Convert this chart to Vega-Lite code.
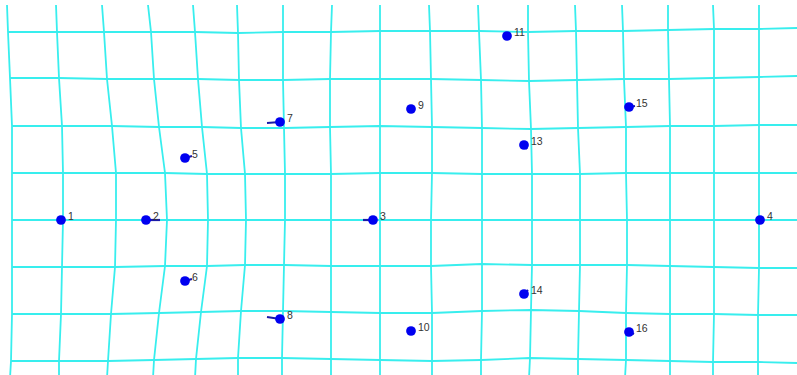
{
  "$schema": "https://vega.github.io/schema/vega-lite/v6.json",
  "width": 797,
  "height": 375,
  "autosize": {"type": "fit", "contains": "padding"},
  "padding": 0,
  "background": "white",
  "config": {"view": {"stroke": null}},
  "datasets": {
    "grid": [
      {"v":1,"x":7,"y":5},{"v":2,"x":56,"y":5},{"v":3,"x":102,"y":5},{"v":4,"x":148,"y":5},{"v":5,"x":193,"y":5},{"v":6,"x":237,"y":5},{"v":7,"x":283,"y":5},{"v":8,"x":332,"y":5},{"v":9,"x":380,"y":5},{"v":10,"x":429,"y":5},{"v":11,"x":478,"y":5},{"v":12,"x":528,"y":5},{"v":13,"x":575,"y":5},{"v":14,"x":622,"y":5},{"v":15,"x":668,"y":5},{"v":16,"x":713,"y":5},{"v":17,"x":759,"y":5},

      {"v":1,"h":1,"x":8,"y":32},{"v":2,"h":1,"x":57,"y":32},{"v":3,"h":1,"x":104,"y":32},{"v":4,"h":1,"x":151,"y":32},{"v":5,"h":1,"x":195,"y":32},{"v":6,"h":1,"x":238,"y":33},{"v":7,"h":1,"x":283,"y":32},{"v":8,"h":1,"x":331,"y":32},{"v":9,"h":1,"x":380,"y":31},{"v":10,"h":1,"x":430,"y":31},{"v":11,"h":1,"x":479,"y":31},{"v":12,"h":1,"x":528,"y":32},{"v":13,"h":1,"x":576,"y":31},{"v":14,"h":1,"x":623,"y":31},{"v":15,"h":1,"x":668,"y":30},{"v":16,"h":1,"x":714,"y":29},{"v":17,"h":1,"x":759,"y":29},{"h":1,"x":797,"y":28},

      {"v":1,"h":2,"x":10,"y":78},{"v":2,"h":2,"x":59,"y":78},{"v":3,"h":2,"x":107,"y":79},{"v":4,"h":2,"x":154,"y":79},{"v":5,"h":2,"x":198,"y":79},{"v":6,"h":2,"x":239,"y":80},{"v":7,"h":2,"x":283,"y":80},{"v":8,"h":2,"x":330,"y":79},{"v":9,"h":2,"x":380,"y":79},{"v":10,"h":2,"x":431,"y":79},{"v":11,"h":2,"x":481,"y":80},{"v":12,"h":2,"x":529,"y":81},{"v":13,"h":2,"x":577,"y":80},{"v":14,"h":2,"x":624,"y":79},{"v":15,"h":2,"x":669,"y":79},{"v":16,"h":2,"x":714,"y":78},{"v":17,"h":2,"x":759,"y":77},{"h":2,"x":797,"y":76},

      {"v":1,"h":3,"x":12,"y":126},{"v":2,"h":3,"x":62,"y":126},{"v":3,"h":3,"x":112,"y":126},{"v":4,"h":3,"x":159,"y":127},{"v":5,"h":3,"x":202,"y":127},{"v":6,"h":3,"x":241,"y":128},{"v":7,"h":3,"x":284,"y":128},{"v":8,"h":3,"x":330,"y":127},{"v":9,"h":3,"x":380,"y":126},{"v":10,"h":3,"x":432,"y":127},{"v":11,"h":3,"x":482,"y":128},{"v":12,"h":3,"x":531,"y":129},{"v":13,"h":3,"x":578,"y":128},{"v":14,"h":3,"x":626,"y":127},{"v":15,"h":3,"x":670,"y":126},{"v":16,"h":3,"x":714,"y":126},{"v":17,"h":3,"x":759,"y":125},{"h":3,"x":797,"y":125},

      {"v":1,"h":4,"x":12,"y":173},{"v":2,"h":4,"x":63,"y":173},{"v":3,"h":4,"x":116,"y":173},{"v":4,"h":4,"x":165,"y":173},{"v":5,"h":4,"x":207,"y":174},{"v":6,"h":4,"x":245,"y":174},{"v":7,"h":4,"x":285,"y":174},{"v":8,"h":4,"x":331,"y":174},{"v":9,"h":4,"x":380,"y":173},{"v":10,"h":4,"x":432,"y":173},{"v":11,"h":4,"x":482,"y":174},{"v":12,"h":4,"x":532,"y":174},{"v":13,"h":4,"x":580,"y":174},{"v":14,"h":4,"x":626,"y":173},{"v":15,"h":4,"x":670,"y":173},{"v":16,"h":4,"x":714,"y":173},{"v":17,"h":4,"x":759,"y":173},{"h":4,"x":797,"y":173},

      {"v":1,"h":5,"x":12,"y":220},{"v":2,"h":5,"x":63,"y":220},{"v":3,"h":5,"x":116,"y":220},{"v":4,"h":5,"x":167,"y":220},{"v":5,"h":5,"x":208,"y":220},{"v":6,"h":5,"x":246,"y":220},{"v":7,"h":5,"x":285,"y":220},{"v":8,"h":5,"x":331,"y":220},{"v":9,"h":5,"x":380,"y":220},{"v":10,"h":5,"x":431,"y":220},{"v":11,"h":5,"x":482,"y":220},{"v":12,"h":5,"x":532,"y":220},{"v":13,"h":5,"x":580,"y":220},{"v":14,"h":5,"x":627,"y":220},{"v":15,"h":5,"x":670,"y":220},{"v":16,"h":5,"x":714,"y":220},{"v":17,"h":5,"x":759,"y":220},{"h":5,"x":797,"y":220},

      {"v":1,"h":6,"x":12,"y":267},{"v":2,"h":6,"x":62,"y":267},{"v":3,"h":6,"x":115,"y":267},{"v":4,"h":6,"x":165,"y":266},{"v":5,"h":6,"x":207,"y":266},{"v":6,"h":6,"x":245,"y":265},{"v":7,"h":6,"x":284,"y":265},{"v":8,"h":6,"x":331,"y":266},{"v":9,"h":6,"x":380,"y":266},{"v":10,"h":6,"x":431,"y":266},{"v":11,"h":6,"x":482,"y":264},{"v":12,"h":6,"x":532,"y":265},{"v":13,"h":6,"x":580,"y":265},{"v":14,"h":6,"x":627,"y":265},{"v":15,"h":6,"x":670,"y":266},{"v":16,"h":6,"x":714,"y":267},{"v":17,"h":6,"x":759,"y":268},{"h":6,"x":797,"y":268},

      {"v":1,"h":7,"x":12,"y":314},{"v":2,"h":7,"x":61,"y":314},{"v":3,"h":7,"x":111,"y":314},{"v":4,"h":7,"x":159,"y":313},{"v":5,"h":7,"x":201,"y":312},{"v":6,"h":7,"x":241,"y":311},{"v":7,"h":7,"x":283,"y":311},{"v":8,"h":7,"x":331,"y":312},{"v":9,"h":7,"x":380,"y":313},{"v":10,"h":7,"x":432,"y":313},{"v":11,"h":7,"x":482,"y":311},{"v":12,"h":7,"x":531,"y":310},{"v":13,"h":7,"x":579,"y":311},{"v":14,"h":7,"x":626,"y":313},{"v":15,"h":7,"x":670,"y":314},{"v":16,"h":7,"x":714,"y":314},{"v":17,"h":7,"x":758,"y":315},{"h":7,"x":797,"y":315},

      {"v":1,"h":8,"x":11,"y":361},{"v":2,"h":8,"x":59,"y":361},{"v":3,"h":8,"x":108,"y":361},{"v":4,"h":8,"x":154,"y":360},{"v":5,"h":8,"x":196,"y":359},{"v":6,"h":8,"x":238,"y":358},{"v":7,"h":8,"x":282,"y":358},{"v":8,"h":8,"x":331,"y":359},{"v":9,"h":8,"x":380,"y":360},{"v":10,"h":8,"x":432,"y":361},{"v":11,"h":8,"x":481,"y":360},{"v":12,"h":8,"x":530,"y":358},{"v":13,"h":8,"x":578,"y":359},{"v":14,"h":8,"x":626,"y":360},{"v":15,"h":8,"x":670,"y":361},{"v":16,"h":8,"x":713,"y":362},{"v":17,"h":8,"x":758,"y":362},{"h":8,"x":797,"y":363},

      {"v":1,"x":10,"y":378},{"v":2,"x":59,"y":378},{"v":3,"x":107,"y":378},{"v":4,"x":153,"y":378},{"v":5,"x":195,"y":378},{"v":6,"x":238,"y":378},{"v":7,"x":282,"y":378},{"v":8,"x":331,"y":378},{"v":9,"x":380,"y":378},{"v":10,"x":432,"y":378},{"v":11,"x":481,"y":378},{"v":12,"x":529,"y":378},{"v":13,"x":578,"y":378},{"v":14,"x":625,"y":378},{"v":15,"x":670,"y":378},{"v":16,"x":713,"y":378},{"v":17,"x":758,"y":378}
    ],
    "landmarks": [
      {"id":"1","x":61,"y":220},
      {"id":"2","x":146,"y":220,"tx":160,"ty":220},
      {"id":"3","x":373,"y":220,"tx":363,"ty":220},
      {"id":"4","x":760,"y":220},
      {"id":"5","x":185,"y":158,"tx":192,"ty":156},
      {"id":"6","x":185,"y":281,"tx":192,"ty":279},
      {"id":"7","x":280,"y":122,"tx":267,"ty":123},
      {"id":"8","x":280,"y":319,"tx":267,"ty":317},
      {"id":"9","x":411,"y":109},
      {"id":"10","x":411,"y":331},
      {"id":"11","x":507,"y":36},
      {"id":"13","x":524,"y":145,"tx":527,"ty":149},
      {"id":"14","x":524,"y":294,"tx":528,"ty":290},
      {"id":"15","x":629,"y":107,"tx":635,"ty":106},
      {"id":"16","x":629,"y":332,"tx":634,"ty":334}
    ]
  },
  "encoding": {
    "x": {"field": "x", "type": "quantitative", "scale": {"domain": [0, 797], "nice": false, "zero": false}, "axis": null},
    "y": {"field": "y", "type": "quantitative", "scale": {"domain": [0, 375], "nice": false, "zero": false, "reverse": true}, "axis": null}
  },
  "layer": [
    {
      "data": {"name": "grid"},
      "transform": [{"filter": "datum.v != null"}],
      "mark": {"type": "line", "color": "#38eeee", "strokeWidth": 1.8, "clip": true},
      "encoding": {"detail": {"field": "v", "type": "nominal"}, "order": {"field": "y", "type": "quantitative"}}
    },
    {
      "data": {"name": "grid"},
      "transform": [{"filter": "datum.h != null"}],
      "mark": {"type": "line", "color": "#38eeee", "strokeWidth": 1.8, "clip": true},
      "encoding": {"detail": {"field": "h", "type": "nominal"}, "order": {"field": "x", "type": "quantitative"}}
    },
    {
      "data": {"name": "landmarks"},
      "transform": [{"filter": "datum.tx != null"}],
      "mark": {"type": "rule", "color": "#1a1aa8", "strokeWidth": 2.2},
      "encoding": {
        "x2": {"field": "tx"},
        "y2": {"field": "ty"}
      }
    },
    {
      "data": {"name": "landmarks"},
      "mark": {"type": "point", "filled": true, "color": "#0000f0", "opacity": 1, "size": 95},
      "encoding": {}
    },
    {
      "data": {"name": "landmarks"},
      "mark": {"type": "text", "align": "left", "baseline": "middle", "dx": 7, "dy": -3, "fontSize": 10.5, "font": "Liberation Sans", "color": "#333333"},
      "encoding": {"text": {"field": "id"}}
    }
  ]
}
